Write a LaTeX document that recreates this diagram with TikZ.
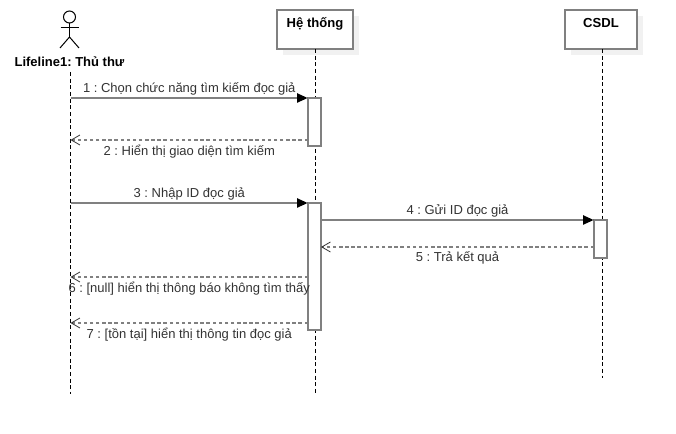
\documentclass[tikz,border=0pt]{standalone}
\usepackage{fontspec}
\setmainfont{Liberation Sans}
\frenchspacing
\usetikzlibrary{arrows.meta,shadows}
\definecolor{linegray}{HTML}{808080}
\definecolor{shadowgray}{HTML}{F1F1F1}
\definecolor{msgtext}{HTML}{333333}
\begin{document}
\begin{tikzpicture}[
    x=0.75pt, y=-0.75pt,
    lifebox/.style={rectangle, draw=linegray, line width=1.5pt, fill=white, inner sep=0pt, outer sep=0pt,
        minimum height=29.25pt, text height=13.5pt, text depth=15.75pt,
        font=\fontsize{9.8pt}{11pt}\selectfont\bfseries,
        drop shadow={shadow xshift=4.5pt, shadow yshift=-4.5pt, fill=shadowgray, opacity=1}},
    activation/.style={rectangle, draw=linegray, line width=1.5pt, fill=white, inner sep=0pt, outer sep=0pt, minimum width=9.75pt},
    lifeline/.style={densely dashed, line width=0.75pt, black},
    stick/.style={line width=0.75pt, black},
    call/.style={-{Triangle[length=8pt, width=6.8pt, color=black]}, line width=1.5pt, linegray, shorten >=0.2pt},
    reply/.style={-{Straight Barb[length=6.5pt, width=7.5pt, line width=0.6pt, color=msgtext]}, dash pattern=on 2.6pt off 2pt, line width=1pt, linegray},
    msgup/.style={midway, above, inner sep=0pt, yshift=1.3pt, text=msgtext, font=\fontsize{9.75pt}{11pt}\selectfont},
    msgdown/.style={midway, below, inner sep=0pt, yshift=-3.1pt, text=msgtext, font=\fontsize{9.75pt}{11pt}\selectfont}
]
    \useasboundingbox (0,0) rectangle (676,434);

    % Actor
    \node[circle, stick, draw, inner sep=0pt, minimum size=9pt] (head) at (69.5,17) {};
    \coordinate (hip) at (69.5,37);
    \coordinate (arm_l) at (60.5,28);
    \coordinate (arm_r) at (79,28);
    \coordinate (foot_l) at (60,48);
    \coordinate (foot_r) at (79,48);
    \draw[stick] (head.south) -- (hip);
    \draw[stick] (arm_l) -- (arm_r);
    \draw[stick] (foot_l) -- (hip) -- (foot_r);
    \node[font=\fontsize{9.75pt}{11pt}\selectfont\bfseries, inner sep=0pt] (thuthu) at (69.5,62) {Lifeline1: Thủ thư};

    % Lifeline heads
    \node[lifebox, minimum width=56.6pt] (hethong) at (315,29.5) {Hệ thống};
    \node[lifebox, minimum width=54pt] (csdl) at (601,29.5) {CSDL};

    % Lifelines
    \coordinate (thuthu_top) at (70.5,72);
    \coordinate (thuthu_end) at (70.5,394);
    \coordinate (hethong_end) at (315.5,394);
    \coordinate (csdl_end) at (602,378);
    \draw[lifeline] (thuthu_top) -- (thuthu_end);
    \draw[lifeline] (hethong.south -| hethong_end) -- (hethong_end);
    \draw[lifeline] (csdl.south -| csdl_end) -- (csdl_end);

    % Activations
    \node[activation, minimum height=36pt] (act_a) at (314.5,122) {};
    \node[activation, minimum height=95.25pt] (act_b) at (314.5,266.5) {};
    \node[activation, minimum height=28.5pt] (act_c) at (600.5,239) {};

    % Points on the first lifeline
    \coordinate (p_one) at (70.5,98);
    \coordinate (p_two) at (70.5,140);
    \coordinate (p_three) at (70.5,203);
    \coordinate (p_six) at (70.5,277);
    \coordinate (p_seven) at (70.5,323);
    % Points on the activations
    \coordinate (p_four) at (321,220);
    \coordinate (p_five) at (321,247);

    % Messages
    \draw[call] (p_one) -- (act_a.north west) node[msgup] (msg_one) {1 : Chọn chức năng tìm kiếm đọc giả};
    \draw[reply] (act_a.west |- p_two) -- (p_two) node[msgdown] (msg_two) {2 : Hiển thị giao diện tìm kiếm};
    \draw[call] (p_three) -- (act_b.north west) node[msgup] (msg_three) {3 : Nhập ID đọc giả};
    \draw[call] (p_four) -- (act_c.north west) node[msgup] (msg_four) {4 : Gửi ID đọc giả};
    \draw[reply] (act_c.west |- p_five) -- (p_five) node[msgdown] (msg_five) {5 : Trả kết quả};
    \draw[reply] (act_b.west |- p_six) -- (p_six) node[msgdown] (msg_six) {6 : [null] hiển thị thông báo không tìm thấy};
    \draw[reply] (act_b.west |- p_seven) -- (p_seven) node[msgdown] (msg_seven) {7 : [tồn tại] hiển thị thông tin đọc giả};
\end{tikzpicture}
\end{document}
